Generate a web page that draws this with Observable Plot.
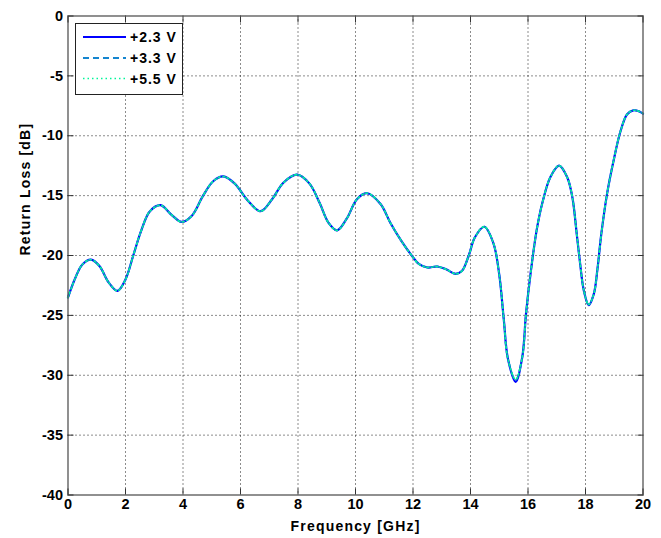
<!DOCTYPE html>
<html><head><meta charset="utf-8">
<script src="https://cdn.jsdelivr.net/npm/d3@7"></script>
<script src="https://cdn.jsdelivr.net/npm/@observablehq/plot@0.6"></script>
<style>
body{margin:0;background:#fff;}
#wrap{position:relative;width:661px;height:538px;font-family:"Liberation Sans",Arial,sans-serif;}
#legend{position:absolute;left:75px;top:23px;}
.axlab text{letter-spacing:1.2px;}
</style></head><body><div id="wrap"></div>
<script>
const freq = [0,0.25,0.5,0.8,1.1,1.4,1.72,2.0,2.27,2.55,2.85,3.22,3.6,3.95,4.3,4.7,5.05,5.4,5.8,6.25,6.7,7.1,7.5,7.97,8.4,8.75,9.07,9.36,9.7,10.05,10.4,10.87,11.22,11.6,11.97,12.2,12.5,12.84,13.15,13.48,13.7,13.94,14.15,14.48,14.8,15.0,15.16,15.3,15.57,15.8,15.93,16.09,16.3,16.5,16.78,17.08,17.36,17.54,17.7,17.8,17.94,18.11,18.29,18.41,18.55,18.75,18.98,19.22,19.45,19.66,19.85,20];
const rl23 = [-23.5,-21.9,-20.75,-20.35,-20.9,-22.2,-22.95,-22.0,-20.0,-17.9,-16.3,-15.8,-16.6,-17.2,-16.7,-15.0,-13.8,-13.4,-14.0,-15.4,-16.3,-15.3,-13.9,-13.25,-14.0,-15.6,-17.3,-17.9,-16.9,-15.3,-14.8,-15.7,-17.3,-18.8,-20.05,-20.7,-21.0,-20.92,-21.15,-21.53,-21.3,-20.0,-18.5,-17.6,-19.0,-21.6,-25.4,-28.6,-30.55,-28.5,-24.9,-21.5,-17.9,-15.6,-13.45,-12.5,-13.45,-15.1,-18.3,-20.4,-22.9,-24.15,-23.2,-21.25,-18.2,-14.85,-12.05,-9.6,-8.2,-7.88,-7.95,-8.15];
const rl33 = [-23.5,-21.9,-20.75,-20.35,-20.9,-22.2,-22.95,-22.0,-20.0,-17.9,-16.3,-15.8,-16.6,-17.2,-16.7,-15.0,-13.8,-13.4,-14.0,-15.4,-16.3,-15.3,-13.9,-13.25,-14.0,-15.6,-17.3,-17.9,-16.9,-15.3,-14.8,-15.7,-17.3,-18.8,-20.05,-20.7,-21.0,-20.92,-21.15,-21.53,-21.3,-20.0,-18.5,-17.6,-19.0,-21.6,-25.4,-28.6,-30.4,-28.5,-24.9,-21.5,-17.9,-15.6,-13.45,-12.5,-13.45,-15.1,-18.3,-20.4,-22.9,-24.1,-23.2,-21.25,-18.2,-14.85,-12.05,-9.6,-8.2,-7.88,-7.95,-8.15];
const rl55 = [-23.5,-21.9,-20.75,-20.35,-20.9,-22.2,-22.95,-22.0,-20.0,-17.9,-16.3,-15.8,-16.6,-17.2,-16.7,-15.0,-13.8,-13.4,-14.0,-15.4,-16.3,-15.3,-13.9,-13.25,-14.0,-15.6,-17.3,-17.9,-16.9,-15.3,-14.8,-15.7,-17.3,-18.8,-20.05,-20.7,-21.0,-20.92,-21.15,-21.53,-21.3,-20.0,-18.5,-17.6,-19.0,-21.6,-25.4,-28.6,-30.35,-28.5,-24.9,-21.5,-17.9,-15.6,-13.45,-12.5,-13.45,-15.1,-18.3,-20.4,-22.9,-24.1,-23.2,-21.25,-18.2,-14.85,-12.05,-9.6,-8.2,-7.88,-7.95,-8.15];
const seriesNames = ["+2.3 V","+3.3 V","+5.5 V"];
const seriesColors = ["#0000ff","#1585cf","#00f59a"];
const seriesDash = [null,"6,4","1.5,3"];
const seriesWidth = [2.2,1.8,1.6];
const xTicks = [0,2,4,6,8,10,12,14,16,18,20];
const yTicks = [0,-5,-10,-15,-20,-25,-30,-35,-40];
const xLabel = "Frequency [GHz]";
const yLabel = "Return Loss [dB]";

const allSeries = [rl23, rl33, rl55];
const rows = [];
allSeries.forEach((arr, s) => arr.forEach((v, i) => rows.push({f: freq[i], rl: v, s: seriesNames[s]})));

const fontFam = "'Liberation Sans', Arial, sans-serif";
const fmt = d => String(d);

const lineMarks = seriesNames.map((name, k) =>
  Plot.line(rows.filter(r => r.s === name), {
    x: "f", y: "rl", stroke: seriesColors[k], strokeWidth: seriesWidth[k],
    strokeDasharray: seriesDash[k], curve: "catmull-rom"
  })
);

const chart = Plot.plot({
  width: 661, height: 538,
  marginLeft: 67.5, marginRight: 18.5, marginTop: 15.5, marginBottom: 43.5,
  style: {fontFamily: fontFam, fontSize: "14.5px", fontWeight: "bold", background: "white", color: "black"},
  x: {domain: [0, 20]},
  y: {domain: [-40, 0]},
  marks: [
    Plot.gridX(xTicks.slice(1, -1), {stroke: "black", strokeOpacity: 0.9, strokeDasharray: "1,3"}),
    Plot.gridY(yTicks.slice(1, -1), {stroke: "black", strokeOpacity: 0.9, strokeDasharray: "1,3"}),
    ...lineMarks,
    Plot.frame({stroke: "#555", strokeWidth: 1.3}),
    Plot.axisX(xTicks, {anchor: "bottom", tickSize: 0, tickPadding: 4, tickFormat: fmt, label: null}),
    Plot.axisX(xTicks, {anchor: "bottom", tickSize: -6, tickFormat: () => "", label: null, stroke: "#333"}),
    Plot.axisX(xTicks, {anchor: "top", tickSize: -6, tickFormat: () => "", label: null, stroke: "#333"}),
    Plot.axisY(yTicks, {anchor: "left", tickSize: 0, tickPadding: 5, tickFormat: fmt, label: null}),
    Plot.axisY(yTicks, {anchor: "left", tickSize: -6, tickFormat: () => "", label: null, stroke: "#333"}),
    Plot.axisY(yTicks, {anchor: "right", tickSize: -6, tickFormat: () => "", label: null, stroke: "#333"}),
    Plot.text([xLabel], {text: d => d, frameAnchor: "bottom", dy: 36, lineAnchor: "bottom", fontSize: 14, className: "axlab"}),
    Plot.text([yLabel], {text: d => d, frameAnchor: "left", dx: -38, rotate: -90, lineAnchor: "bottom", fontSize: 14, className: "axlab"})
  ]
});
const wrap = document.getElementById("wrap");
wrap.appendChild(chart);

// legend
const ns = "http://www.w3.org/2000/svg";
const leg = document.createElementNS(ns, "svg");
leg.setAttribute("id", "legend");
leg.setAttribute("width", 109); leg.setAttribute("height", 73);
const box = document.createElementNS(ns, "rect");
box.setAttribute("x", 0.5); box.setAttribute("y", 0.5); box.setAttribute("width", 107); box.setAttribute("height", 71);
box.setAttribute("fill", "white"); box.setAttribute("stroke", "#222"); box.setAttribute("stroke-width", 1);
leg.appendChild(box);
const rowY = [14, 35, 55.5];
seriesNames.forEach((name, k) => {
  const ln = document.createElementNS(ns, "line");
  ln.setAttribute("x1", 8); ln.setAttribute("x2", 51);
  ln.setAttribute("y1", rowY[k]); ln.setAttribute("y2", rowY[k]);
  ln.setAttribute("stroke", seriesColors[k]); ln.setAttribute("stroke-width", seriesWidth[k]);
  if (seriesDash[k]) ln.setAttribute("stroke-dasharray", seriesDash[k]);
  leg.appendChild(ln);
  const tx = document.createElementNS(ns, "text");
  tx.setAttribute("x", 55); tx.setAttribute("y", rowY[k] + 5);
  tx.setAttribute("font-family", fontFam); tx.setAttribute("font-size", 14);
  tx.setAttribute("font-weight", "bold"); tx.setAttribute("letter-spacing", "1px");
  tx.textContent = name;
  leg.appendChild(tx);
});
wrap.appendChild(leg);
</script></body></html>
